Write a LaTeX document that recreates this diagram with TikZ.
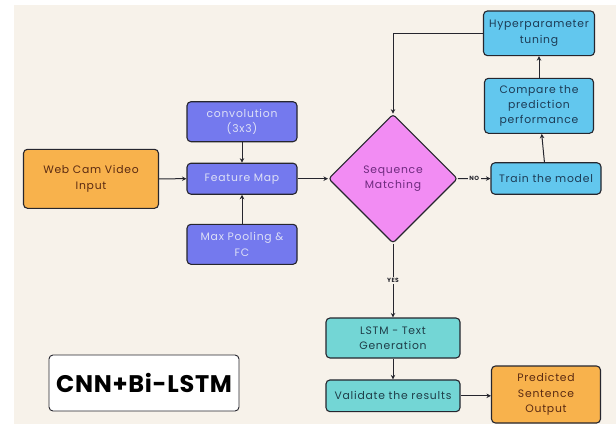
\documentclass[tikz,border=0pt]{standalone}
\usepackage{fontspec}
\setmainfont{Poppins}[LetterSpace=7]
\newfontfamily\titlefont{Poppins}[BoldFont=* Bold, LetterSpace=3]
\usetikzlibrary{shapes.geometric,arrows.meta}
\definecolor{cream}{HTML}{F7F2EA}
\definecolor{orng}{HTML}{F8B24C}
\definecolor{orngtxt}{HTML}{5A2A12}
\definecolor{purp}{HTML}{7479EE}
\definecolor{purptxt}{HTML}{DDE0F6}
\definecolor{pink}{HTML}{F28CF3}
\definecolor{pinktxt}{HTML}{6E2A7E}
\definecolor{lblue}{HTML}{62C7EE}
\definecolor{lbluetxt}{HTML}{1D3B55}
\definecolor{teal}{HTML}{73D6D5}
\definecolor{tealtxt}{HTML}{1F3D48}
\definecolor{edge}{HTML}{26262E}
\tikzset{
  box/.style={draw=edge, line width=1.1pt, rounded corners=4pt, align=center,
    inner sep=0pt, font=\fontsize{10.8}{15.3}\selectfont},
  orbox/.style={box, fill=orng, text=orngtxt},
  pubox/.style={box, fill=purp, text=purptxt},
  blbox/.style={box, fill=lblue, text=lbluetxt},
  tlbox/.style={box, fill=teal, text=tealtxt},
  conn/.style={draw=edge, line width=1pt, -{Stealth[length=4.5pt,width=4.5pt]}},
  lbl/.style={fill=cream, inner sep=1.5pt, text=edge, font=\fontsize{6}{6}\selectfont\bfseries}
}
\begin{document}
\begin{tikzpicture}[x=1pt,y=-1pt]
\useasboundingbox (0,0) rectangle (616,424);
\fill[white] (0,0) rectangle (616,424);
\fill[cream] (14,5) rectangle (616,424);
\begin{scope}
\clip (0,0) rectangle (616,424);
% nodes
\node[orbox, minimum width=135pt, minimum height=59pt] (web) at (91,178.8) {Web Cam Video\\Input};
\node[pubox, minimum width=110pt, minimum height=40pt] (conv) at (242,121.7) {convolution\\(3x3)};
\node[pubox, minimum width=110pt, minimum height=31pt] (fmap) at (242,178.7) {Feature Map};
\node[pubox, minimum width=110pt, minimum height=40pt] (pool) at (242,244.3) {Max Pooling \&\\FC};
\node[diamond, draw=edge, line width=1.1pt, fill=pink, align=center,
  minimum width=129pt, minimum height=129pt, inner sep=0pt, aspect=1,
  rounded corners=3pt] (seq) at (393,178.7) {};
\node[text=pinktxt, align=center, font=\fontsize{10.8}{15.3}\selectfont] (seqtext) at (393,178.7) {Sequence\\Matching};
\node[blbox, minimum width=110pt, minimum height=31.5pt] (train) at (546,178.5) {Train the model};
\node[blbox, minimum width=109pt, minimum height=55pt] (comp) at (539,105.8) {Compare the\\prediction\\performance};
\node[blbox, minimum width=111pt, minimum height=44.7pt] (hyper) at (539,33.3) {Hyperparameter\\tuning};
\node[tlbox, minimum width=134pt, minimum height=40pt] (lstm) at (393,338) {LSTM - Text\\Generation};
\node[tlbox, minimum width=134pt, minimum height=31.7pt] (valid) at (393,395.8) {Validate the results};
\node[orbox, minimum width=109pt, minimum height=57pt] (pred) at (546,394.5) {Predicted\\Sentence\\Output};
\node[draw=edge, line width=0.9pt, fill=white, rounded corners=4pt, minimum width=190pt,
  minimum height=56pt, inner sep=0pt, font=\titlefont\fontsize{24}{26}\selectfont\bfseries] (title) at (144,383) {CNN+Bi-LSTM};
\end{scope}
% connectors
\draw[conn] (web) -- (fmap);
\draw[conn] (conv) -- (fmap);
\draw[conn] (pool) -- (fmap);
\draw[conn] (fmap) -- (seq);
\draw[conn] (seq) -- node[lbl] {NO} (train);
\draw[conn] (train) -- (comp);
\draw[conn] (comp) -- (hyper);
\coordinate (corner) at (seq.north |- hyper.west);
\draw[conn] (hyper.west) -- (corner) -- (seq.north);
\draw[conn] (seq) -- node[lbl, pos=0.5] {YES} (lstm);
\draw[conn] (lstm) -- (valid);
\draw[conn] (valid) -- (pred.west |- valid.east);
\end{tikzpicture}
\end{document}
